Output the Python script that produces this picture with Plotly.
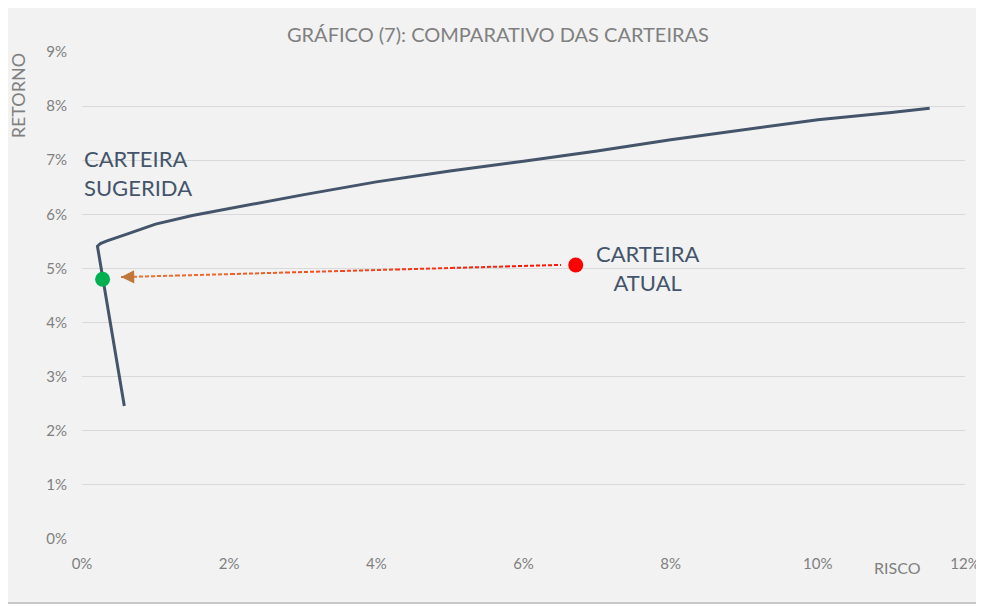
import plotly.graph_objects as go

# Efficient frontier (risk %, return %)
frontier_risk = [0.575, 0.21, 0.25, 0.34, 0.6, 1.0, 1.5, 2.0, 3.0, 4.0, 5.0, 6.0, 7.0, 8.0, 9.0, 10.0, 11.0, 11.52]
frontier_ret = [2.46, 5.41, 5.46, 5.51, 5.63, 5.82, 5.98, 6.11, 6.36, 6.60, 6.80, 6.98, 7.17, 7.38, 7.57, 7.75, 7.88, 7.96]

# Portfolios
suggested_risk, suggested_ret = 0.28, 4.80
current_risk, current_ret = 6.71, 5.065

x_ticks = [0, 2, 4, 6, 8, 10, 12]
x_labels = ["0%", "2%", "4%", "6%", "8%", "10%", "12%"]
y_ticks = list(range(0, 10))
y_labels = [f"{v}%" for v in y_ticks]

title_text = "GRÁFICO (7): COMPARATIVO DAS CARTEIRAS"
label_suggested = "CARTEIRA<br>SUGERIDA"
label_current = "CARTEIRA<br>ATUAL"

TEXT_DARK = "#44546a"
GRAY = "#808080"
FONT = "Lato, sans-serif"

fig = go.Figure()

# frontier
fig.add_trace(go.Scatter(x=frontier_risk, y=frontier_ret, mode="lines",
                         line=dict(color="#44546a", width=3), hoverinfo="skip",
                         showlegend=False))

# dashed arrow shaft, gradient red -> orange
x_start, y_start = current_risk - 0.2, current_ret
x_end, y_end = suggested_risk + 0.25, suggested_ret + 0.04
n_seg = 8
cols = ["#e97132", "#ec6a2e", "#ef5f28", "#f25222", "#f5441b", "#f83513", "#fb250b", "#ff1505"]
for i in range(n_seg):
    t0, t1 = i / n_seg, (i + 1) / n_seg
    fig.add_trace(go.Scatter(
        x=[x_end + (x_start - x_end) * t0, x_end + (x_start - x_end) * t1],
        y=[y_end + (y_start - y_end) * t0, y_end + (y_start - y_end) * t1],
        mode="lines", line=dict(color=cols[i], width=2, dash="4px,2px"),
        hoverinfo="skip", showlegend=False))

fig.add_annotation(x=x_end, y=y_end, ax=x_end + 0.12, ay=y_end + 0.003,
                   xref="x", yref="y", axref="x", ayref="y", text="",
                   showarrow=True, arrowhead=2, arrowsize=1.2, arrowwidth=2.2,
                   arrowcolor="#c0783a")

# portfolio points
fig.add_trace(go.Scatter(x=[suggested_risk], y=[suggested_ret], mode="markers",
                         marker=dict(color="#00b050", size=15), showlegend=False))
fig.add_trace(go.Scatter(x=[current_risk], y=[current_ret], mode="markers",
                         marker=dict(color="#ff0000", size=15), showlegend=False))

fig.add_annotation(x=0, y=6.76, xref="x", yref="y", text=label_suggested,
                   showarrow=False, xanchor="left", yanchor="middle", align="left",
                   font=dict(family=FONT, size=22, color=TEXT_DARK))
fig.add_annotation(x=7.69, y=5.0, xref="x", yref="y", text=label_current,
                   showarrow=False, xanchor="center", yanchor="middle", align="center",
                   font=dict(family=FONT, size=22, color=TEXT_DARK))

# axis titles placed like the original
fig.add_annotation(x=-0.073, y=0.91, xref="paper", yref="paper", text="RETORNO",
                   showarrow=False, textangle=-90, xanchor="center", yanchor="middle",
                   font=dict(family=FONT, size=18, color=GRAY))
fig.add_annotation(x=11.08, y=-0.058, xref="x", yref="paper", text="RISCO",
                   showarrow=False, xanchor="center", yanchor="middle",
                   font=dict(family=FONT, size=16, color=GRAY))

# bottom grey line
fig.add_shape(type="line", xref="paper", yref="paper", x0=-0.1, x1=1.05, y0=-0.1314, y1=-0.1314,
              line=dict(color="#c8c8c8", width=2), layer="below")

fig.update_layout(
    width=976, height=596,
    margin=dict(l=74, r=19, t=44, b=65, autoexpand=False),
    paper_bgcolor="#f2f2f2", plot_bgcolor="#f2f2f2",
    title=dict(text=title_text, x=0.502, xanchor="center", y=0.955, yanchor="middle",
               font=dict(family=FONT, size=20, color=GRAY)),
    showlegend=False,
    font=dict(family=FONT),
)
fig.update_xaxes(range=[0, 12], tickvals=x_ticks, ticktext=x_labels, showgrid=False,
                 zeroline=False, showline=False, ticks="", ticklabelstandoff=14,
                 automargin=False,
                 tickfont=dict(family=FONT, size=15, color=GRAY))
fig.update_yaxes(range=[0, 9], tickvals=y_ticks, ticktext=y_labels, showgrid=True,
                 gridcolor="#d9d9d9", gridwidth=1, zeroline=False, showline=False,
                 ticks="", ticklabelstandoff=14, automargin=False,
                 tickfont=dict(family=FONT, size=15, color=GRAY))

fig.write_html("out.html")
